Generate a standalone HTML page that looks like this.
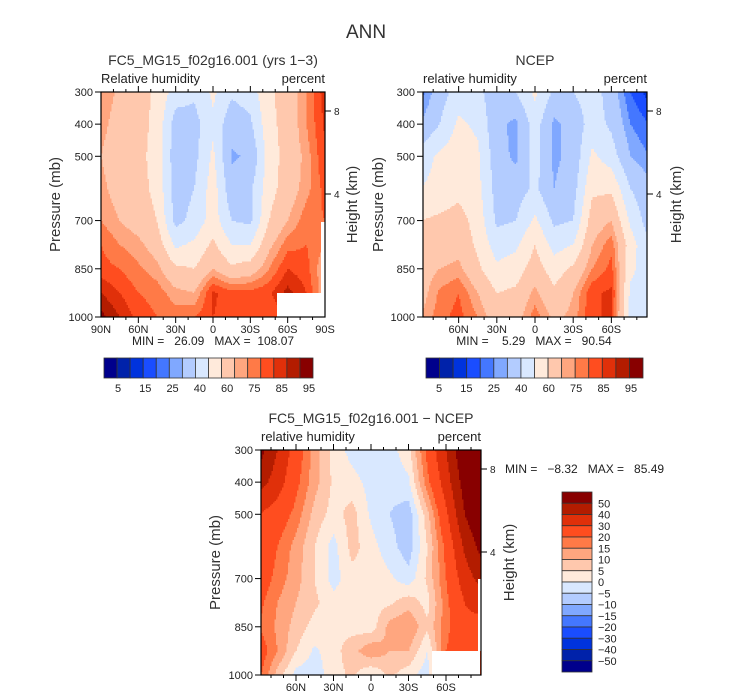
<!DOCTYPE html>
<html><head><meta charset="utf-8">
<style>
body{margin:0;background:#fff;}
svg{display:block;font-family:"Liberation Sans",sans-serif;}
.pre{white-space:pre;}
</style></head>
<body>
<svg id="fig" width="733" height="699" viewBox="0 0 733 699" xmlns="http://www.w3.org/2000/svg">
<text x="366" y="38" font-size="19" text-anchor="middle" fill="#333">ANN</text>
<g id="p1"></g>
<g id="p2"></g>
<g id="p3"></g>
</svg>
<script>
const pressures=[300,400,500,600,700,775,850,925,1000];
const lats=[90,75,60,45,30,15,0,-15,-30,-45,-60,-75,-90];
const absLevels=[5,10,15,20,25,30,40,50,60,70,75,80,85,90,95];
const absLabels=["5","15","25","40","60","75","85","95"];
const diffLevels=[-50,-40,-30,-20,-15,-10,-5,0,5,10,15,20,30,40,50];
const diffLabels=["50","40","30","20","15","10","5","0","\u22125","\u221210","\u221215","\u221220","\u221230","\u221240","\u221250"];
const colors=["#00008c","#0022aa","#0033dd","#1a4dff","#4477ff","#80a8ff","#b3ccff","#d9e8ff","#ffeadb","#ffc8ad","#ffa67f","#ff7a47","#ff4d1f","#e0300a","#b31c00","#880000"];
const latTicks=[60,30,0,-30,-60];
const modelRH=[
[73,69,64,58,45,42,52,42,45,58,65,75,88],
[72,67,64,57,35,36,48,33,38,57,64,75,86],
[70,65,63,56,34,37,52,29,31,55,64,72,85],
[72,66,64,57,35,40,55,33,38,56,65,73,82],
[75,70,66,60,37,43,55,40,38,60,70,78,80],
[80,75,72,66,48,52,62,50,50,68,78,80,75],
[82,80,76,72,62,60,70,62,65,75,85,82,70],
[90,85,80,78,72,70,86,82,82,84,92,85,70],
[97,90,83,80,78,80,85,83,82,80,85,80,70]];
const ncepRH=[
[22,35,45,42,35,40,52,38,40,45,35,20,12],
[30,40,52,48,32,28,45,28,33,45,38,25,20],
[45,52,56,52,34,28,45,28,33,52,45,30,25],
[50,53,57,53,36,35,42,30,36,58,58,40,32],
[60,62,64,56,38,40,52,38,40,65,70,48,35],
[62,64,67,58,45,48,60,46,50,70,78,55,40],
[66,70,72,62,52,55,65,55,62,75,82,52,45],
[66,76,80,70,60,62,72,62,70,84,86,48,45],
[70,78,82,75,65,66,78,68,72,85,85,45,45]];
const diffRH=[
[55,40,25,12,3,-2,-4,-2,3,22,40,60,75],
[45,35,22,12,4,2,-2,-3,-1,18,35,55,70],
[30,25,18,8,3,7,-1,-5,-8,8,28,50,62],
[28,20,13,5,-2,7,2,-3,-8,5,22,42,55],
[25,18,12,5,-2,3,3,1,-3,6,20,35,45],
[22,15,10,6,2,3,3,4,8,3,18,30,35],
[20,14,8,3,4,3,2,12,15,6,18,28,25],
[25,15,5,-1,3,8,14,10,10,0,20,25,20],
[22,8,-2,-3,3,6,0,6,2,-3,20,22,20]];

const NS="http://www.w3.org/2000/svg";
function mk(parent,tag,attrs,txt){const e=document.createElementNS(NS,tag);for(const k in attrs)e.setAttribute(k,attrs[k]);if(txt!==undefined)e.textContent=txt;parent.appendChild(e);return e;}
function sample(data,lat,p){
  let i=0;while(i<pressures.length-2&&p>pressures[i+1])i++;
  let fp=(p-pressures[i])/(pressures[i+1]-pressures[i]);fp=Math.max(0,Math.min(1,fp));
  let j=0;while(j<lats.length-2&&lat<lats[j+1])j++;
  let fl=(lats[j]-lat)/(lats[j]-lats[j+1]);fl=Math.max(0,Math.min(1,fl));
  const a=data[i][j],b=data[i][j+1],c=data[i+1][j],d=data[i+1][j+1];
  return (a*(1-fl)+b*fl)*(1-fp)+(c*(1-fl)+d*fl)*fp;
}
function colorIdx(v,levels){let k=0;while(k<levels.length&&v>=levels[k])k++;return k;}

function panel(g,o){
  const {x0,x1,y0,y1,latL,latR,data,levels}=o;
  const xs=lat=>x0+(latL-lat)/(latL-latR)*(x1-x0);
  const ys=p=>y0+(p-300)/700*(y1-y0);
  const step=1.5;
  const nx=Math.ceil((x1-x0)/step), ny=Math.ceil((y1-y0)/step);
  const field=mk(g,'g',{});
  
  
  for(let iy=0;iy<ny;iy++){
    const y=y0+iy*step;
    const h=Math.min(step+0.5,y1-y);
    const p=300+(y+step/2-y0)/(y1-y0)*700;
    let runStart=0,runC=-1;
    for(let ix=0;ix<=nx;ix++){
      let c=-1;
      if(ix<nx){const x=x0+ix*step;const lat=latL-(x+step/2-x0)/(x1-x0)*(latL-latR);c=colorIdx(sample(data,lat,p),levels);}
      if(c!==runC){
        if(runC>=0){
          const xa=x0+runStart*step;const xb=Math.min(x0+ix*step+0.5,x1);
          const r=mk(field,'rect',{x:xa,y:y,width:xb-xa,height:h,fill:colors[runC]});
          }
        runStart=ix;runC=c;
      }
    }
  }
  (o.white||[]).forEach(w=>{const r=mk(g,'rect',{x:w[0],y:w[1],width:w[2],height:w[3],fill:'#fff'});
    });
  const fr=mk(g,'rect',{x:x0,y:y0,width:x1-x0,height:y1-y0,fill:'none',stroke:'#000','stroke-width':1.2});
  
  [300,400,500,700,850,1000].forEach(p=>{
    const y=ys(p);mk(g,'line',{x1:x0-6,x2:x0,y1:y,y2:y,stroke:'#000'});
    const t=mk(g,'text',{x:x0-8,y:y+4,'font-size':11,'text-anchor':'end',fill:'#222'},String(p));
    
  });
  for(let l=-80;l<=80;l+=10){const x=xs(l);if(x<x0-0.5||x>x1+0.5)continue;const L=(l%30===0)?6:3;
    mk(g,'line',{x1:x,x2:x,y1:y1,y2:y1+L,stroke:'#000'});mk(g,'line',{x1:x,x2:x,y1:y0,y2:y0-L,stroke:'#000'});}
  const lt=o.full?[90,60,30,0,-30,-60,-90]:latTicks;
  lt.forEach(l=>{const x=xs(l);const s=l===0?'0':(Math.abs(l)+(l>0?'N':'S'));
    const t=mk(g,'text',{x:x,y:y1+16,'font-size':11,'text-anchor':'middle',fill:'#222'},s);
    });
  [[8,o.h8],[4,o.h4]].forEach(h=>{mk(g,'line',{x1:x1,x2:x1+6,y1:h[1],y2:h[1],stroke:'#000'});
    const t=mk(g,'text',{x:x1+9,y:h[1]+4,'font-size':10,fill:'#222'},String(h[0]));
    });
  const ty=mk(g,'text',{x:0,y:0,'font-size':15,'text-anchor':'middle',fill:'#333',transform:`translate(${o.plx},${(y0+y1)/2}) rotate(-90)`},'Pressure (mb)');
  
  const hy=mk(g,'text',{x:0,y:0,'font-size':15,'text-anchor':'middle',fill:'#333',transform:`translate(${o.hlx},${(y0+y1)/2}) rotate(-90)`},'Height (km)');
  
  const tt=mk(g,'text',{x:(x0+x1)/2,y:y0-27,'font-size':14,'text-anchor':'middle',fill:'#333'},o.title);
  
  const vl=mk(g,'text',{x:x0,y:y0-9,'font-size':13,fill:'#222'},o.varname);
  
  const ul=mk(g,'text',{x:x1,y:y0-9,'font-size':13,'text-anchor':'end',fill:'#222'},'percent');
  
  const mm=mk(g,'text',{x:o.mmx,y:o.mmy,'font-size':12,'text-anchor':o.mma,fill:'#222','class':'pre'},o.minmax);
  
}
function hbar(g,x0,x1,y0,h,lblX0,lblX1){
  const w=(x1-x0)/16;
  colors.forEach((c,i)=>{const r=mk(g,'rect',{x:x0+i*w,y:y0,width:w,height:h,fill:c,stroke:'#333','stroke-width':0.8});
    });
  absLabels.forEach((s,i)=>{const t=mk(g,'text',{x:lblX0+i*(lblX1-lblX0)/7,y:y0+h+14,'font-size':11,'text-anchor':'middle',fill:'#222'},s);
    });
}
const p1=document.getElementById('p1');
panel(p1,{x0:101,x1:325,y0:92,y1:317,latL:90,latR:-90,data:modelRH,levels:absLevels,full:true,
  white:[[277,293,48,24],[321,222,4,72]],h8:111,h4:194,plx:60,hlx:357,
  title:'FC5_MG15_f02g16.001 (yrs 1\u22123)',varname:'Relative humidity',minmax:'MIN =   26.09   MAX =  108.07',mmx:213,mmy:345,mma:'middle'});
hbar(p1,104,313,358,20,118,309);
const p2=document.getElementById('p2');
panel(p2,{x0:423,x1:647,y0:92,y1:317,latL:88,latR:-88,data:ncepRH,levels:absLevels,
  h8:111,h4:194,plx:383,hlx:681,title:'NCEP',varname:'relative humidity',minmax:'MIN =    5.29   MAX =   90.54',mmx:534,mmy:345,mma:'middle'});
hbar(p2,426,643,358,20,439,631);
const p3=document.getElementById('p3');
panel(p3,{x0:261,x1:481,y0:450,y1:675,latL:88,latR:-88,data:diffRH,levels:diffLevels,
  white:[[432,651,48,24],[478,579,3,72]],h8:469,h4:552,plx:220,hlx:514,
  title:'FC5_MG15_f02g16.001 \u2212 NCEP',varname:'relative humidity',minmax:'MIN =   \u22128.32   MAX =   85.49',mmx:505,mmy:473,mma:'start'});
const vb=mk(p3,'g',{});


const bh=180/16;
colors.slice().reverse().forEach((c,i)=>{const r=mk(vb,'rect',{x:562,y:492+i*bh,width:30,height:bh,fill:c,stroke:'#333','stroke-width':0.8});
  });
diffLabels.forEach((s,i)=>{const t=mk(vb,'text',{x:598,y:492+(i+1)*bh+4,'font-size':11,fill:'#222'},s);
  });
</script>
</body></html>
